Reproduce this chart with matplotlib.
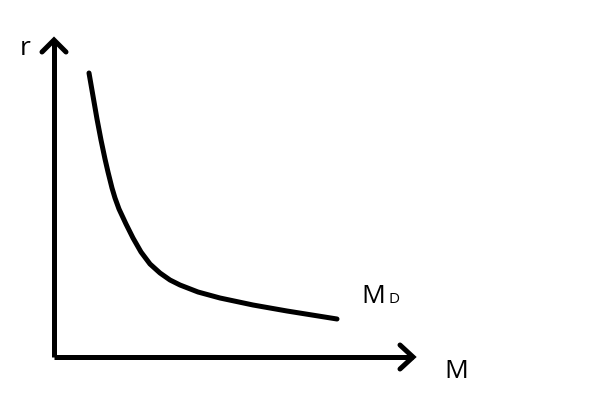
import matplotlib.pyplot as plt

# money demand curve (pixel coordinates, y down)
curve_x = [89, 93, 97, 101, 105, 108, 112, 115, 119, 126, 133, 141, 150,
           160, 170, 180, 198, 220, 253, 287, 337]
curve_y = [74, 97, 120, 141, 160, 173, 189, 199, 210, 225, 239, 253, 265,
           274, 281, 286, 293, 299, 306, 312, 320]

x_label = "M"
y_label = "r"
curve_label = ("M", "D")

fig = plt.figure(figsize=(6.04, 4.10), dpi=100)
ax = fig.add_axes([0, 0, 1, 1])
ax.set_xlim(0, 604)
ax.set_ylim(410, 0)
ax.axis("off")

lw = 3.6
ox, oy = 54, 358

# axes with open arrow heads
ax.plot([ox, ox], [oy, 42], color="black", lw=lw, solid_capstyle="butt")
ax.plot([ox, 413], [oy, oy], color="black", lw=lw, solid_capstyle="butt")
ax.plot([42, 54, 66], [53, 41, 53], color="black", lw=lw,
        solid_joinstyle="miter", solid_capstyle="round")
ax.plot([400, 413, 400], [346, 358, 370], color="black", lw=lw,
        solid_joinstyle="miter", solid_capstyle="round")

# demand curve
ax.plot(curve_x, curve_y, color="black", lw=lw, solid_capstyle="round",
        solid_joinstyle="round")

font = "Open Sans"
ax.text(20, 55, y_label, fontsize=19, family=font, ha="left", va="baseline")
ax.text(444, 378, x_label, fontsize=19, family=font, ha="left", va="baseline")
ax.text(361, 303, curve_label[0], fontsize=19, family=font, ha="left", va="baseline")
ax.text(388, 303, curve_label[1], fontsize=11, family=font, ha="left", va="baseline")

fig.savefig("out.png", dpi=100)
